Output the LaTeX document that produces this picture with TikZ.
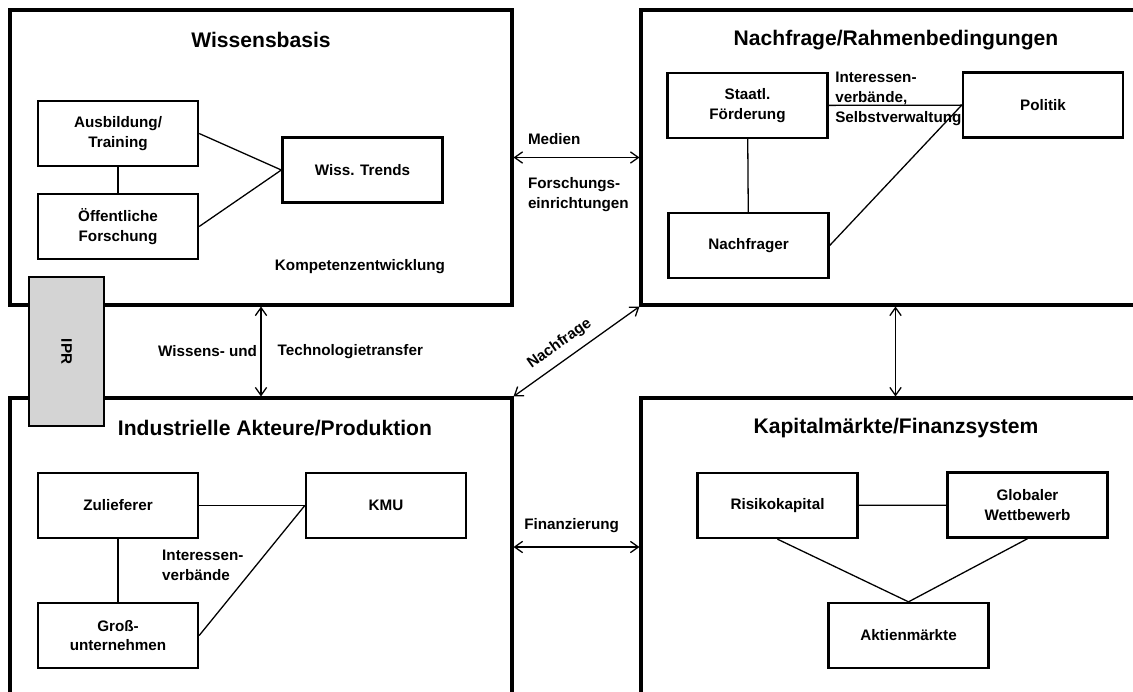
\documentclass[tikz,border=0pt]{standalone}
\usepackage{fontspec}
\setmainfont{Liberation Sans}
\usetikzlibrary{fit}
\usetikzlibrary{arrows.meta}
\newcommand{\titelschrift}{\bfseries\fontsize{18}{21}\selectfont}
\newcommand{\kastenschrift}{\bfseries\fontsize{13}{17}\selectfont}
\tikzstyle{bereich}=[draw, line width=2.6pt, inner sep=0pt]
\tikzstyle{akteur}=[draw, line width=2pt, minimum width=4.8cm, minimum height=1.95cm, align=center, font=\kastenschrift]
\tikzstyle{ipr}=[draw, line width=2pt, fill=black!17, inner sep=0pt]
\tikzstyle{titel}=[font=\titelschrift]
\tikzstyle{beschriftung}=[font=\kastenschrift, align=left, inner sep=0pt]
\tikzstyle{verbindung}=[line width=1.1pt]
\tikzstyle{wechsel}=[line width=1.1pt, <->, >={Straight Barb[length=2.4mm, width=3.4mm]}]

\begin{document}
\begin{tikzpicture}[x=0.3cm, y=-0.3cm]
      \useasboundingbox (0,0) rectangle (113.3,69.1);

      \node[bereich, fit={(1,1) (51.2,30.5)}] (wissen) {};
      \node[bereich, fit={(64.1,1) (115,30.5)}] (nachfrage) {};
      \node[bereich, fit={(1,39.8) (51.2,69.6)}] (industrie) {};
      \node[bereich, fit={(64.1,39.8) (115,69.6)}] (kapital) {};

      \node[titel] (wissen titel) at (26.1,4.0) {Wissensbasis};
      \node[titel] (nachfrage titel) at (89.6,4.0) {Nachfrage/Rahmenbedingungen};
      \node[titel] (industrie titel) at (27.5,42.8) {Industrielle Akteure/Produktion};
      \node[titel] (kapital titel) at (89.6,42.8) {Kapitalmärkte/Finanzsystem};

      \node[akteur] (ausbildung) at (11.8,13.35) {Ausbildung/\\Training};
      \node[akteur] (oeffentlich) at (11.8,22.65) {Öffentliche\\Forschung};
      \node[akteur] (trends) at (36.25,17.0) {Wiss. Trends};
      \node[beschriftung] (kompetenz) at (36.0,26.7) {Kompetenzentwicklung};
      \draw[verbindung] (ausbildung) -- (oeffentlich);
      \draw[verbindung] (ausbildung.east) -- (trends.west);
      \draw[verbindung] (oeffentlich.east) -- (trends.west);

      \node[akteur] (staatl) at (74.75,10.55) {Staatl.\\Förderung};
      \node[akteur] (politik) at (104.3,10.5) {Politik};
      \node[akteur] (nachfrager) at (74.85,24.55) {Nachfrager};
      \draw[verbindung] (staatl) -- (politik)
        node[beschriftung, pos=0, anchor=west, xshift=0.18cm, yshift=0.2cm] {Interessen-\\verbände,\\Selbstverwaltung};
      \draw[verbindung] (staatl) -- (nachfrager);
      \draw[verbindung] (nachfrager.east) -- (politik.west);

      \node[akteur] (zulieferer) at (11.8,50.55) {Zulieferer};
      \node[akteur] (kmu) at (38.6,50.55) {KMU};
      \node[akteur] (gross) at (11.8,63.55) {Groß-\\unternehmen};
      \node[beschriftung, anchor=west] (verbaende) at (16.2,56.5) {Interessen-\\verbände};
      \draw[verbindung] (zulieferer) -- (kmu);
      \draw[verbindung] (zulieferer) -- (gross);
      \draw[verbindung] (gross.east) -- (kmu.west);

      \node[akteur] (risiko) at (77.75,50.55) {Risikokapital};
      \node[akteur] (globaler) at (102.75,50.5) {Globaler\\Wettbewerb};
      \node[akteur] (aktien) at (90.85,63.55) {Aktienmärkte};
      \draw[verbindung] (risiko) -- (globaler);
      \draw[verbindung] (risiko.south) -- (aktien.north);
      \draw[verbindung] (globaler.south) -- (aktien.north);

      % Austausch zwischen den Bereichen
      \draw[wechsel] (wissen) -- (nachfrage)
        node[beschriftung, pos=0.11, anchor=south west, yshift=0.36cm] {Medien}
        node[beschriftung, pos=0.11, anchor=north west, yshift=-0.58cm] {Forschungs-\\einrichtungen};
      \draw[wechsel] (wissen) -- (industrie)
        node[beschriftung, midway, anchor=east, xshift=-0.1cm] {Wissens- und}
        node[beschriftung, midway, anchor=west, xshift=0.48cm] {Technologietransfer};
      \draw[wechsel] (industrie.north east) -- (nachfrage.south west)
        node[beschriftung, pos=0.44, sloped, above, inner sep=0.25cm] {Nachfrage};
      \draw[wechsel] (nachfrage) -- (kapital);
      \draw[wechsel] (industrie) -- (kapital)
        node[beschriftung, pos=0.08, anchor=south west, yshift=0.4cm] {Finanzierung};

      \node[ipr, fit={(2.9,27.7) (10.4,42.6)}] (ipr) {};
      \node[beschriftung, rotate=-90] (ipr text) at (ipr) {IPR};
    \end{tikzpicture}
\end{document}
